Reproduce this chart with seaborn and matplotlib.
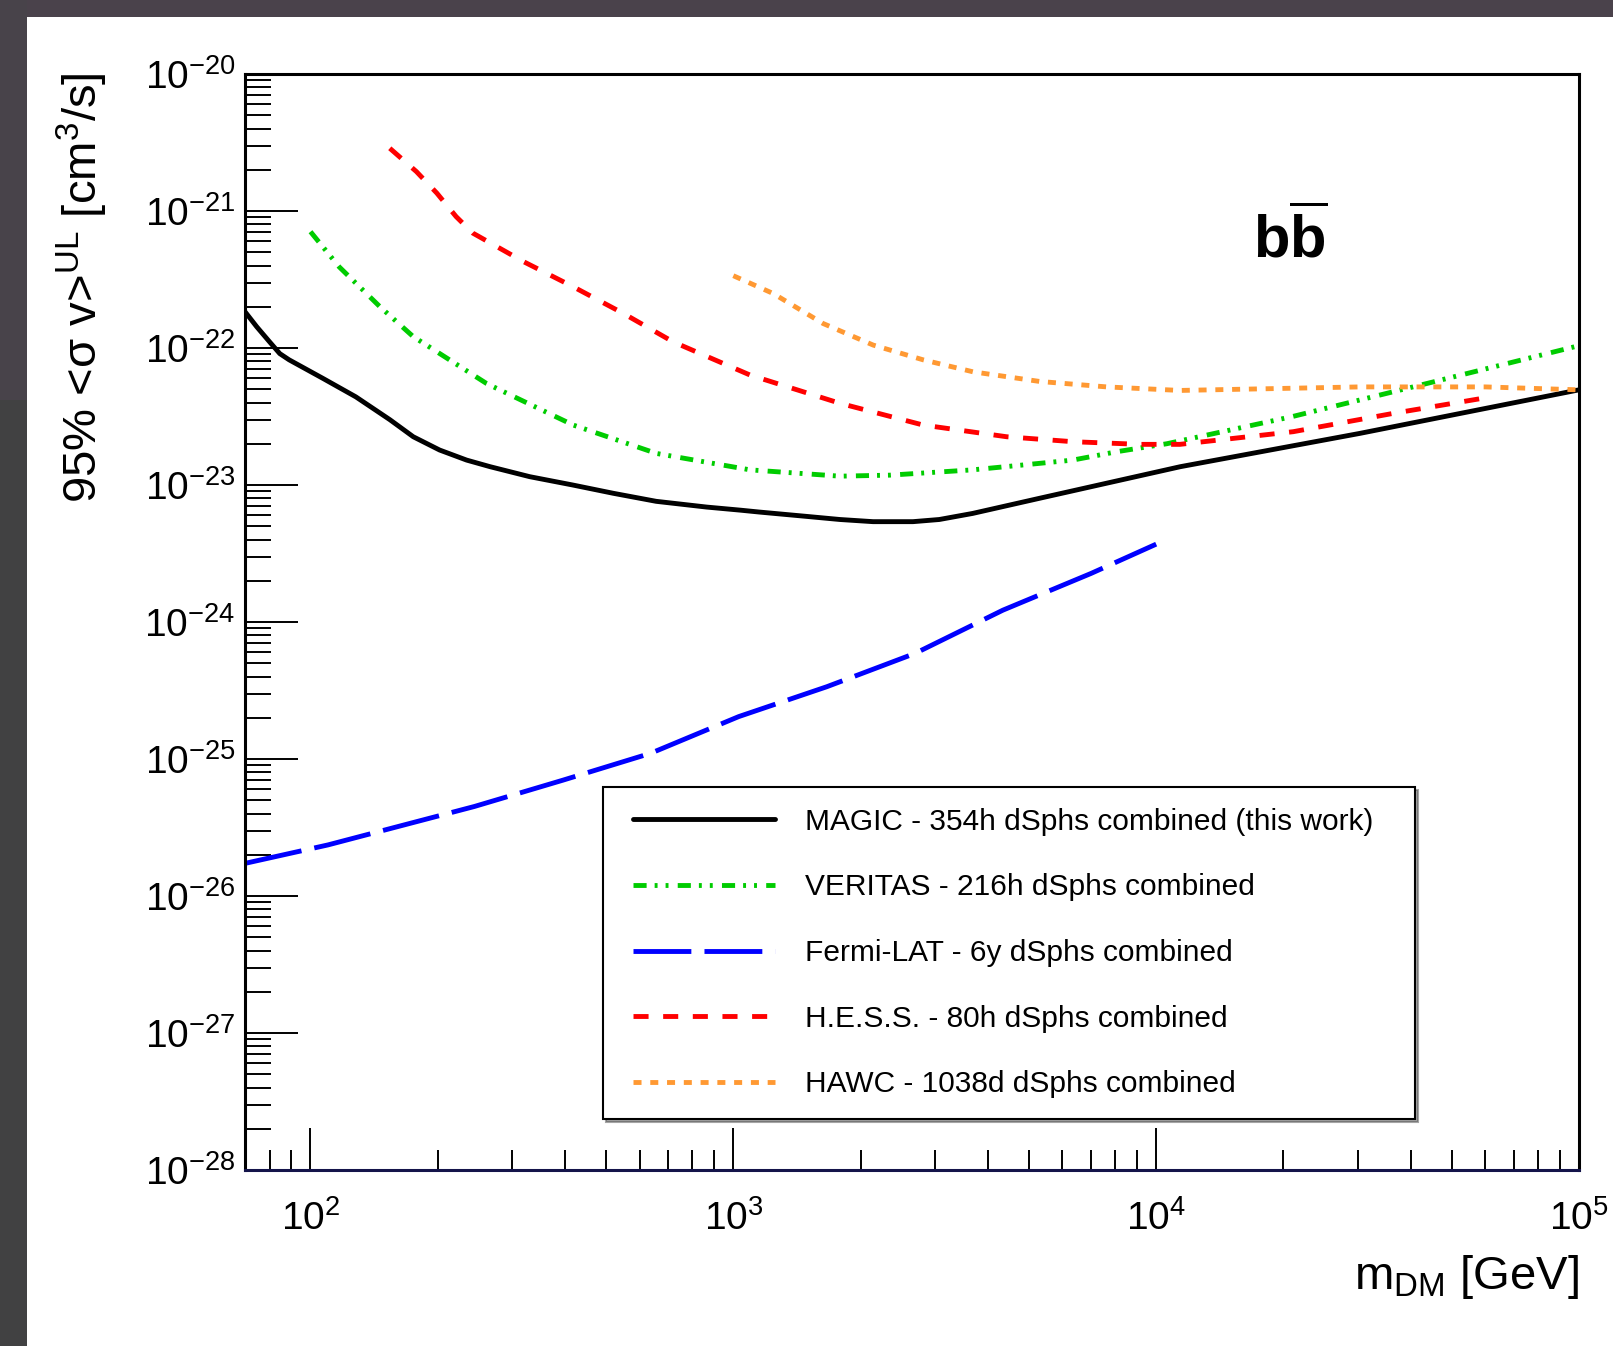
import numpy as np
import pandas as pd
import matplotlib
matplotlib.use("Agg")
import matplotlib.pyplot as plt
import matplotlib.ticker as mticker
from matplotlib.patches import Rectangle
from matplotlib.lines import Line2D
from matplotlib.legend_handler import HandlerLine2D
import seaborn as sns

# ---------------- data ----------------
magic_m = [70, 74.6, 80, 84.6, 89, 107, 128, 154, 175, 202, 234, 266, 330, 417, 520,
           657, 865, 1040, 1150, 1490, 1786, 2140, 2660, 3070, 3680, 5300, 7630, 11400,
           30300, 100000]
magic_sv = [1.84e-22, 1.43e-22, 1.11e-22, 9.1e-23, 8.2e-23, 6.0e-23, 4.4e-23, 3.0e-23,
            2.25e-23, 1.8e-23, 1.52e-23, 1.36e-23, 1.15e-23, 1.0e-23, 8.7e-24, 7.6e-24,
            6.9e-24, 6.55e-24, 6.35e-24, 5.9e-24, 5.6e-24, 5.4e-24, 5.4e-24, 5.6e-24,
            6.2e-24, 8.0e-24, 1.03e-23, 1.36e-23, 2.38e-23, 4.95e-23]

veritas_m = [100, 117, 146, 175, 261, 418, 658, 1095, 1786, 2344, 3680, 4840, 6350,
             8070, 10590, 21000, 43600, 100000]
veritas_sv = [7.06e-22, 3.9e-22, 2.0e-22, 1.21e-22, 5.5e-23, 2.74e-23, 1.7e-23, 1.29e-23,
              1.16e-23, 1.18e-23, 1.29e-23, 1.4e-23, 1.52e-23, 1.75e-23, 2.0e-23,
              3.16e-23, 5.5e-23, 1.04e-22]

fermi_m = [70, 110, 244, 395, 637, 1030, 1664, 2690, 4340, 7010, 10000]
fermi_sv = [1.73e-26, 2.36e-26, 4.5e-26, 7.0e-26, 1.1e-25, 2.04e-25, 3.37e-25, 5.9e-25,
            1.22e-24, 2.26e-24, 3.7e-24]

hess_m = [154, 178, 199, 221, 242, 319, 418, 549, 720, 1095, 1786, 2810, 4430, 6360,
          9150, 11380, 21100, 36300, 59300]
hess_sv = [2.87e-21, 1.94e-21, 1.35e-21, 9.1e-22, 6.9e-22, 4.27e-22, 2.8e-22, 1.79e-22,
           1.11e-22, 6.35e-23, 3.95e-23, 2.74e-23, 2.25e-23, 2.07e-23, 1.98e-23, 1.98e-23,
           2.45e-23, 3.33e-23, 4.3e-23]

hawc_m = [1000, 1242, 1630, 2142, 2810, 3690, 5300, 7640, 11380, 30300, 60000, 100000]
hawc_sv = [3.37e-22, 2.5e-22, 1.51e-22, 1.05e-22, 8.2e-23, 6.7e-23, 5.7e-23, 5.2e-23,
           4.9e-23, 5.2e-23, 5.2e-23, 4.95e-23]

x_major = [1e2, 1e3, 1e4, 1e5]
y_major = [1e-28, 1e-27, 1e-26, 1e-25, 1e-24, 1e-23, 1e-22, 1e-21, 1e-20]

labels = ["MAGIC - 354h dSphs combined (this work)",
          "VERITAS - 216h dSphs combined",
          "Fermi-LAT - 6y dSphs combined",
          "H.E.S.S. - 80h dSphs combined",
          "HAWC - 1038d dSphs combined"]
colors = ["#000000", "#00cc00", "#0000ff", "#ff0000", "#ff9933"]
styles = ["-", (0, (2.7, 1.65, 0.6, 1.65, 0.6, 1.9)), (0, (11.9, 2.7)),
          (0, (3.1, 3.0)), (0, (1.65, 1.8))]

series = [(magic_m, magic_sv), (veritas_m, veritas_sv), (fermi_m, fermi_sv),
          (hess_m, hess_sv), (hawc_m, hawc_sv)]

# ---------------- style ----------------
sns.set_style("ticks")
plt.rcParams["font.family"] = ["Liberation Sans", "DejaVu Sans"]
plt.rcParams["mathtext.fontset"] = "custom"
plt.rcParams["mathtext.rm"] = "Liberation Sans"
plt.rcParams["mathtext.it"] = "Liberation Sans:italic"
plt.rcParams["mathtext.bf"] = "Liberation Sans:bold"
plt.rcParams["axes.unicode_minus"] = True
plt.rcParams["text.color"] = "black"
plt.rcParams["axes.labelcolor"] = "black"
plt.rcParams["xtick.color"] = "black"
plt.rcParams["ytick.color"] = "black"

W, H = 1613, 1346
fig = plt.figure(figsize=(W / 100, H / 100), dpi=100)
fig.patch.set_facecolor("white")

# dark surround of the screenshot
fig.patches.append(Rectangle((0, 1 - 17 / H), 1, 17 / H, transform=fig.transFigure,
                             facecolor="#4a424b", edgecolor="none", zorder=-10))
fig.patches.append(Rectangle((0, 1 - 400 / H), 27 / W, 400 / H, transform=fig.transFigure,
                             facecolor="#48434a", edgecolor="none", zorder=-10))
fig.patches.append(Rectangle((0, 0), 27 / W, 1 - 400 / H, transform=fig.transFigure,
                             facecolor="#414142", edgecolor="none", zorder=-10))

ax_l, ax_r, ax_t, ax_b = 245, 1579, 74, 1170
ax = fig.add_axes([ax_l / W, 1 - ax_b / H, (ax_r - ax_l) / W, (ax_b - ax_t) / H])
ax.set_facecolor("white")

lw = 3.5
for (m, sv), lab, col, ls in zip(series, labels, colors, styles):
    df = pd.DataFrame({"m": m, "sv": sv})
    sns.lineplot(data=df, x="m", y="sv", ax=ax, color=col, linestyle=ls, linewidth=lw,
                 label=lab, legend=False, solid_joinstyle="round",
                 dash_joinstyle="round")

ax.set_xscale("log")
ax.set_yscale("log")
ax.set_xlim(70, 1e5)
ax.set_ylim(1e-28, 1e-20)

ax.xaxis.set_major_locator(mticker.FixedLocator(x_major))
ax.yaxis.set_major_locator(mticker.FixedLocator(y_major))
ax.xaxis.set_minor_locator(mticker.LogLocator(base=10, subs=np.arange(2, 10), numticks=40))
ax.yaxis.set_minor_locator(mticker.LogLocator(base=10, subs=np.arange(2, 10), numticks=40))
ax.xaxis.set_minor_formatter(mticker.NullFormatter())
ax.yaxis.set_minor_formatter(mticker.NullFormatter())
fmt = mticker.FuncFormatter(lambda v, p: r"$10^{%d}$" % round(np.log10(v)))
ax.xaxis.set_major_formatter(fmt)
ax.yaxis.set_major_formatter(fmt)

ax.tick_params(which="both", direction="in", top=False, right=False, color="black",
               width=1.4, labelsize=28, labelcolor="black")
ax.tick_params(axis="y", which="major", length=38, pad=7)
ax.tick_params(axis="y", which="minor", length=19)
ax.tick_params(axis="x", which="major", length=30, pad=22)
ax.tick_params(axis="x", which="minor", length=14.5)

for s in ax.spines.values():
    s.set_linewidth(2.2)
    s.set_color("black")
ax.spines["bottom"].set_color("#14144a")

ax.set_ylabel(r"95% <σ v>$^{\mathrm{UL}}$ [cm$^{3}$/s]", fontsize=34, va="center")
ax.yaxis.set_label_coords(-0.1222, 0.805)
ax.set_xlabel(r"m$_{\mathrm{DM}}$ [GeV]", fontsize=34, ha="right")
ax.xaxis.set_label_coords(1.0, -0.076)

ax.text((1253 - ax_l) / (ax_r - ax_l), (ax_b - 257) / (ax_b - ax_t),
        r"$\mathbf{b}\overline{\mathbf{b}}$", transform=ax.transAxes, fontsize=43,
        ha="left", va="baseline", fontweight="bold")

handles = ax.get_lines()[:5]
leg = ax.legend(handles=handles, labels=labels, loc="upper left",
                bbox_to_anchor=(0.2684, 0.0495, 0.6087, 0.3), mode="expand",
                borderaxespad=0, fontsize=21.5, handlelength=5.05, handletextpad=1.0,
                borderpad=0.7, labelspacing=1.26, fancybox=False, framealpha=1,
                edgecolor="black", shadow={"ox": 2, "oy": -2},
                handler_map={Line2D: HandlerLine2D(xpad=0.3)})
leg.get_frame().set_linewidth(1.5)

fig.savefig("out.png", dpi=100, facecolor=fig.get_facecolor())
